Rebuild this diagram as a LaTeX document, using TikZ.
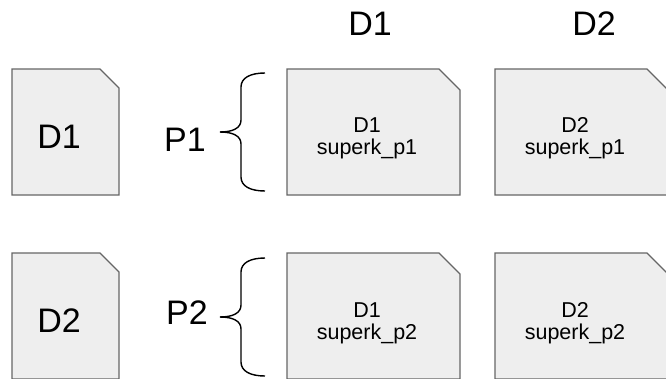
\documentclass[tikz,border=0pt]{standalone}
\usepackage{fontspec}
\setmainfont{Liberation Sans}
\usepackage{xcolor}
\usepackage{tikz}
\usetikzlibrary{positioning}
\definecolor{docfill}{HTML}{EEEEEE}
\definecolor{docline}{HTML}{666666}
\tikzset{
    doc/.style={
        rectangle,
        inner sep=0pt,
        outer sep=0pt,
        minimum width=107pt,
        minimum height=126pt
    },
    slice/.style={
        doc,
        minimum width=173pt
    },
    docedge/.style={
        draw=docline,
        line width=1.4pt,
        fill=docfill
    },
    big/.style={
        font=\fontsize{34}{40}\selectfont,
        inner sep=0pt
    },
    small/.style={
        font=\fontsize{21.5}{22}\selectfont,
        align=center,
        inner sep=0pt
    },
    bracket/.style={
        draw=black,
        line width=1.4pt
    },
    curly/.pic={
        \draw[bracket] (0,0) .. controls (13,0) and (21,-4) .. (21,-12)
            -- (21,-45) .. controls (21,-54) and (30,-59) .. (45,-59);
        \draw[bracket] (0,0) .. controls (13,0) and (21,4) .. (21,12)
            -- (21,45) .. controls (21,54) and (30,59) .. (45,59);
    }
}

\begin{document}
\begin{tikzpicture}[x=1pt, y=-1pt]
\useasboundingbox (0,0) rectangle (666,378);
\clip (0,0) rectangle (666,378);

% Column headers
\node[big] (hd1) at (370,23.5) {D1};
\node[big] (hd2) at (594,23.5) {D2};

% Whole documents and slices (frames only)
\node[doc] (dA) at (65.5,132) {};
\node[doc, below=58pt of dA] (dB) {};
\node[slice] (s11) at (373.5,132) {};
\node[slice, right=35pt of s11] (s12) {};
\node[slice, below=58pt of s11] (s21) {};
\node[slice, right=35pt of s21] (s22) {};

% Dog-eared outlines
\foreach \n/\c in {dA/19, dB/19, s11/21, s12/21, s21/21, s22/21}
    \draw[docedge] (\n.south west) |- ([xshift=-\c pt]\n.north east)
        -- ([yshift=-\c pt]\n.north east) |- cycle;

\node[big] (tA) at (59,136.5) {D1};
\node[big] (tB) at (59,321) {D2};

% Partitions
\node[big] (p1) at (185,139.5) {P1};
\node[big] (p2) at (187,313) {P2};
\pic (br1) at (220,132) {curly};
\pic (br2) at (220,317) {curly};

% Slice labels
\node[small] (l11) at (367,138.3) {D1\\superk\_p1};
\node[small] (l12) at (575,138.3) {D2\\superk\_p1};
\node[small] (l21) at (367,323.3) {D1\\superk\_p2};
\node[small] (l22) at (575,323.3) {D2\\superk\_p2};

\end{tikzpicture}
\end{document}
